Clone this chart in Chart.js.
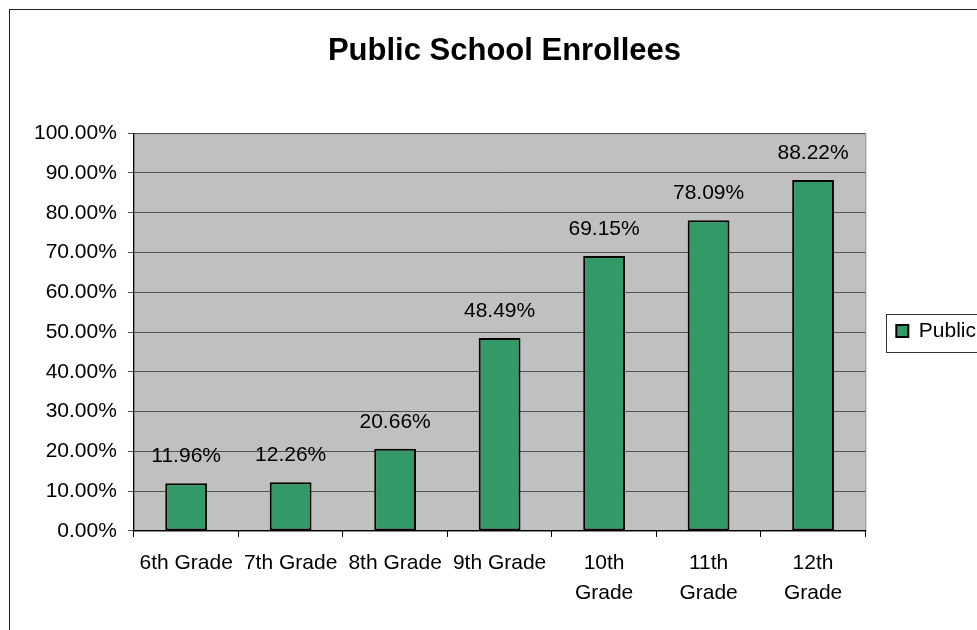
<!DOCTYPE html>
<html>
<head>
<meta charset="utf-8">
<script src="https://cdn.jsdelivr.net/npm/chart.js@4.4.0/dist/chart.umd.min.js"></script>
<style>
  html, body { margin: 0; padding: 0; background: #fff; }
  #wrap { width: 977px; height: 630px; }
</style>
</head>
<body>
<div id="wrap"><canvas id="chart" width="977" height="630"></canvas></div>
<script>
// data
const grades = ['6th Grade', '7th Grade', '8th Grade', '9th Grade', ['10th', 'Grade'], ['11th', 'Grade'], ['12th', 'Grade']];
const publicShare = [11.96, 12.26, 20.66, 48.49, 69.15, 78.09, 88.22];
const yTickLabels = ['0.00%', '10.00%', '20.00%', '30.00%', '40.00%', '50.00%', '60.00%', '70.00%', '80.00%', '90.00%', '100.00%'];

const FONT = 'Liberation Sans, Arial, sans-serif';

// grey plot area + frame around the whole chart + legend box
const excelLook = {
  id: 'excelLook',
  beforeDraw(chart) {
    const {ctx, chartArea: a} = chart;
    ctx.save();
    ctx.fillStyle = '#c0c0c0';
    ctx.fillRect(a.left, a.top, a.right - a.left, a.bottom - a.top);
    ctx.strokeStyle = '#808080';
    ctx.lineWidth = 1;
    ctx.strokeRect(a.left + 0.5, a.top + 0.5, a.right - a.left, a.bottom - a.top);
    ctx.restore();
  },
  afterDraw(chart) {
    const ctx = chart.ctx;
    ctx.save();
    ctx.strokeStyle = '#222';
    ctx.lineWidth = 1;
    ctx.strokeRect(9.5, 9.5, 1200, 1200);
    const hb = chart.legend.legendHitBoxes[0];
    if (hb) {
      ctx.strokeStyle = '#333';
      ctx.strokeRect(Math.round(hb.left) - 9.5, Math.round(hb.top) - 6.5, 200, 38);
    }
    ctx.restore();
  }
};

// percentage labels above each bar
const barLabels = {
  id: 'barLabels',
  afterDatasetsDraw(chart) {
    const ctx = chart.ctx;
    const meta = chart.getDatasetMeta(0);
    ctx.save();
    ctx.font = '21px ' + FONT;
    ctx.fillStyle = '#000';
    ctx.textAlign = 'center';
    ctx.textBaseline = 'middle';
    meta.data.forEach((bar, i) => {
      ctx.fillText(publicShare[i].toFixed(2) + '%', bar.x, bar.y - 27);
    });
    ctx.restore();
  }
};

new Chart(document.getElementById('chart'), {
  type: 'bar',
  data: {
    labels: grades,
    datasets: [{
      label: 'Public',
      data: publicShare,
      backgroundColor: '#339966',
      borderColor: '#000',
      borderWidth: 2,
      borderSkipped: false,
      barPercentage: 0.4,
      categoryPercentage: 1
    }]
  },
  options: {
    responsive: false,
    animation: false,
    layout: {padding: {left: 23, top: 0, right: -9, bottom: 11}},
    plugins: {
      title: {
        display: true,
        text: 'Public School Enrollees',
        color: '#000',
        font: {family: FONT, size: 31, weight: 'bold'},
        padding: {top: 33, bottom: 63}
      },
      legend: {
        position: 'right',
        title: {display: true, text: ' ', font: {size: 10, lineHeight: 1}, padding: {top: 33, bottom: 0}},
        labels: {
          color: '#000',
          font: {family: FONT, size: 21},
          boxWidth: 12,
          boxHeight: 12,
          padding: 31
        }
      },
      tooltip: {enabled: false}
    },
    scales: {
      x: {
        grid: {drawOnChartArea: false, drawTicks: true, tickLength: 6, color: '#000'},
        border: {color: '#000', width: 1},
        ticks: {
          color: '#000',
          font: {family: FONT, size: 21, lineHeight: 1.43},
          padding: 11,
          maxRotation: 0,
          autoSkip: false
        }
      },
      y: {
        min: 0,
        max: 100,
        grid: {color: '#505050', tickLength: 6},
        border: {color: '#000', width: 1},
        ticks: {
          stepSize: 10,
          color: '#000',
          font: {family: FONT, size: 21},
          padding: 11,
          callback: (v, i) => yTickLabels[i]
        }
      }
    }
  },
  plugins: [excelLook, barLabels]
});
</script>
</body>
</html>
